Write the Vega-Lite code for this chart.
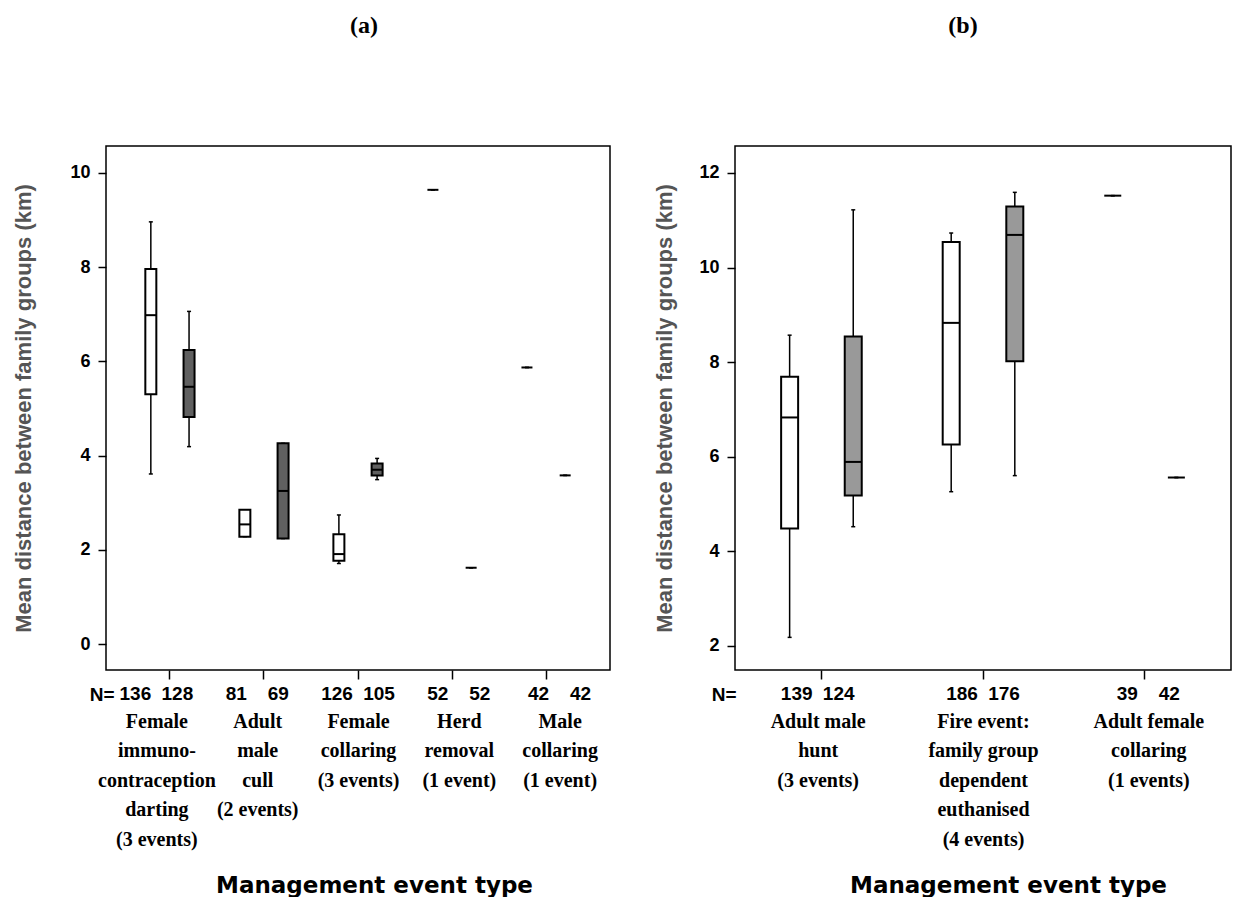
{
  "$schema": "https://vega.github.io/schema/vega-lite/v6.json",
  "background": "white",
  "padding": {"left": 12, "top": 13, "right": 5, "bottom": 0},
  "spacing": 42,
  "datasets": {
    "a": [
      {"event": "Female|immuno-|contraception|darting|(3 events)", "series": "A", "n": 136, "lower": 3.61, "q1": 5.30, "median": 6.98, "q3": 7.96, "upper": 8.96},
      {"event": "Female|immuno-|contraception|darting|(3 events)", "series": "B", "n": 128, "lower": 4.19, "q1": 4.82, "median": 5.46, "q3": 6.24, "upper": 7.06},
      {"event": "Adult|male|cull|(2 events)", "series": "A", "n": 81, "lower": 2.28, "q1": 2.28, "median": 2.54, "q3": 2.85, "upper": 2.85},
      {"event": "Adult|male|cull|(2 events)", "series": "B", "n": 69, "lower": 2.24, "q1": 2.24, "median": 3.25, "q3": 4.26, "upper": 4.26},
      {"event": "Female|collaring|(3 events)", "series": "A", "n": 126, "lower": 1.71, "q1": 1.77, "median": 1.91, "q3": 2.33, "upper": 2.74},
      {"event": "Female|collaring|(3 events)", "series": "B", "n": 105, "lower": 3.49, "q1": 3.58, "median": 3.70, "q3": 3.83, "upper": 3.94},
      {"event": "Herd|removal|(1 event)", "series": "A", "n": 52, "lower": 9.64, "q1": null, "median": 9.64, "q3": null, "upper": 9.64},
      {"event": "Herd|removal|(1 event)", "series": "B", "n": 52, "lower": 1.62, "q1": null, "median": 1.62, "q3": null, "upper": 1.62},
      {"event": "Male|collaring|(1 event)", "series": "A", "n": 42, "lower": 5.87, "q1": null, "median": 5.87, "q3": null, "upper": 5.87},
      {"event": "Male|collaring|(1 event)", "series": "B", "n": 42, "lower": 3.58, "q1": null, "median": 3.58, "q3": null, "upper": 3.58}
    ],
    "b": [
      {"event": "Adult male|hunt|(3 events)", "series": "A", "n": 139, "lower": 2.18, "q1": 4.48, "median": 6.83, "q3": 7.69, "upper": 8.57},
      {"event": "Adult male|hunt|(3 events)", "series": "B", "n": 124, "lower": 4.52, "q1": 5.18, "median": 5.89, "q3": 8.54, "upper": 11.22},
      {"event": "Fire event:|family group|dependent|euthanised|(4 events)", "series": "A", "n": 186, "lower": 5.26, "q1": 6.26, "median": 8.83, "q3": 10.54, "upper": 10.73},
      {"event": "Fire event:|family group|dependent|euthanised|(4 events)", "series": "B", "n": 176, "lower": 5.60, "q1": 8.02, "median": 10.69, "q3": 11.29, "upper": 11.59},
      {"event": "Adult female|collaring|(1 events)", "series": "A", "n": 39, "lower": 11.52, "q1": null, "median": 11.52, "q3": null, "upper": 11.52},
      {"event": "Adult female|collaring|(1 events)", "series": "B", "n": 42, "lower": 5.56, "q1": null, "median": 5.56, "q3": null, "upper": 5.56}
    ]
  },
  "hconcat": [
    {
      "name": "panelA",
      "spacing": 0,
      "resolve": {"scale": {"x": "independent", "xOffset": "independent"}},
      "vconcat": [
        {
          "name": "plotA",
          "title": {"text": "(a)", "font": "Liberation Serif", "fontSize": 24, "fontWeight": "bold", "anchor": "middle", "frame": "group", "offset": 108, "dx": 6, "color": "black"},
          "width": 504,
          "height": 524,
          "data": {"name": "a"},
          "encoding": {
            "x": {"field": "event", "type": "nominal", "sort": null, "scale": {"paddingInner": 0, "paddingOuter": 0.18}, "axis": {"labels": false, "ticks": true, "tickSize": 9, "tickWidth": 1.5, "tickColor": "black", "domain": false, "title": null}},
            "xOffset": {"field": "series", "type": "nominal", "scale": {"paddingInner": 0, "paddingOuter": 0.23}}
          },
          "layer": [
            {
              "mark": {"type": "rule", "stroke": "black", "strokeWidth": 1.5},
              "encoding": {
                "y": {"field": "lower", "type": "quantitative", "scale": {"domain": [-0.55, 10.57], "nice": false, "zero": false},
                  "axis": {"values": [0, 2, 4, 6, 8, 10], "tickSize": 8, "tickWidth": 1.5, "tickColor": "black", "domain": false, "grid": false, "labelFont": "Liberation Sans", "labelFontWeight": "bold", "labelFontSize": 18, "labelColor": "black", "labelPadding": 8, "title": "Mean distance between family groups (km)", "titleFont": "Liberation Sans", "titleFontSize": 22, "titleFontWeight": "bold", "titleColor": "#555555", "titlePadding": 34}},
                "y2": {"field": "upper"}
              }
            },
            {"mark": {"type": "tick", "size": 4, "thickness": 1.5, "color": "black", "opacity": 1}, "encoding": {"y": {"field": "lower", "type": "quantitative"}}},
            {"mark": {"type": "tick", "size": 4, "thickness": 1.5, "color": "black", "opacity": 1}, "encoding": {"y": {"field": "upper", "type": "quantitative"}}},
            {
              "mark": {"type": "bar", "width": 11, "stroke": "black", "strokeWidth": 2},
              "encoding": {
                "y": {"field": "q1", "type": "quantitative"},
                "y2": {"field": "q3"},
                "fill": {"field": "series", "type": "nominal", "scale": {"domain": ["A", "B"], "range": ["white", "#606060"]}, "legend": null}
              }
            },
            {"mark": {"type": "tick", "size": 11, "thickness": 2, "color": "black", "opacity": 1}, "encoding": {"y": {"field": "median", "type": "quantitative"}}}
          ]
        },
        {
          "name": "stripA",
          "width": 504,
          "height": 26,
          "view": {"stroke": null},
          "data": {"name": "a"},
          "encoding": {
            "x": {"field": "event", "type": "nominal", "sort": null, "scale": {"paddingInner": 0, "paddingOuter": 0.18},
              "axis": {"orient": "bottom", "ticks": false, "domain": false, "labelFont": "Liberation Serif", "labelFontWeight": "bold", "labelFontSize": 20, "labelLineHeight": 29.5, "labelPadding": 4, "labelExpr": "split(datum.label, '|')", "labelLimit": 0, "labelOverlap": false, "labelColor": "black", "labelAngle": 0, "title": "Management event type", "titleFont": "DejaVu Sans", "titleFontSize": 23, "titleFontWeight": "bold", "titleX": 268, "titleY": 178, "titleAlign": "center", "titleBaseline": "middle", "titleColor": "black"}},
            "y": {"datum": "N=", "type": "nominal", "axis": {"ticks": false, "domain": false, "labelPadding": -8, "labelFont": "Liberation Sans", "labelFontWeight": "bold", "labelFontSize": 19, "labelColor": "black", "title": null}},
            "text": {"field": "n", "type": "nominal"}
          },
          "layer": [
            {"name": "stripA_left", "transform": [{"filter": "datum.series === 'A'"}], "mark": {"type": "text", "font": "Liberation Sans", "fontWeight": "bold", "fontSize": 19, "color": "black", "dx": -21}},
            {"name": "stripA_right", "transform": [{"filter": "datum.series === 'B'"}], "mark": {"type": "text", "font": "Liberation Sans", "fontWeight": "bold", "fontSize": 19, "color": "black", "dx": 21}}
          ]
        }
      ]
    },
    {
      "name": "panelB",
      "spacing": 0,
      "resolve": {"scale": {"x": "independent", "xOffset": "independent"}},
      "vconcat": [
        {
          "name": "plotB",
          "title": {"text": "(b)", "font": "Liberation Serif", "fontSize": 24, "fontWeight": "bold", "anchor": "middle", "frame": "group", "offset": 108, "dx": -20, "color": "black"},
          "width": 496,
          "height": 524,
          "data": {"name": "b"},
          "encoding": {
            "x": {"field": "event", "type": "nominal", "sort": null, "scale": {"paddingInner": 0, "paddingOuter": 0.035}, "axis": {"labels": false, "ticks": true, "tickSize": 9, "tickWidth": 1.5, "tickColor": "black", "domain": false, "title": null}},
            "xOffset": {"field": "series", "type": "nominal", "scale": {"paddingInner": 0, "paddingOuter": 0.27}}
          },
          "layer": [
            {
              "mark": {"type": "rule", "stroke": "black", "strokeWidth": 1.5},
              "encoding": {
                "y": {"field": "lower", "type": "quantitative", "scale": {"domain": [1.49, 12.57], "nice": false, "zero": false},
                  "axis": {"values": [2, 4, 6, 8, 10, 12], "tickSize": 8, "tickWidth": 1.5, "tickColor": "black", "domain": false, "grid": false, "labelFont": "Liberation Sans", "labelFontWeight": "bold", "labelFontSize": 18, "labelColor": "black", "labelPadding": 8, "title": "Mean distance between family groups (km)", "titleFont": "Liberation Sans", "titleFontSize": 22, "titleFontWeight": "bold", "titleColor": "#555555", "titlePadding": 22}},
                "y2": {"field": "upper"}
              }
            },
            {"mark": {"type": "tick", "size": 4, "thickness": 1.5, "color": "black", "opacity": 1}, "encoding": {"y": {"field": "lower", "type": "quantitative"}}},
            {"mark": {"type": "tick", "size": 4, "thickness": 1.5, "color": "black", "opacity": 1}, "encoding": {"y": {"field": "upper", "type": "quantitative"}}},
            {
              "mark": {"type": "bar", "width": 17, "stroke": "black", "strokeWidth": 2},
              "encoding": {
                "y": {"field": "q1", "type": "quantitative"},
                "y2": {"field": "q3"},
                "fill": {"field": "series", "type": "nominal", "scale": {"domain": ["A", "B"], "range": ["white", "#999999"]}, "legend": null}
              }
            },
            {"mark": {"type": "tick", "size": 17, "thickness": 2, "color": "black", "opacity": 1}, "encoding": {"y": {"field": "median", "type": "quantitative"}}}
          ]
        },
        {
          "name": "stripB",
          "width": 496,
          "height": 26,
          "view": {"stroke": null},
          "data": {"name": "b"},
          "encoding": {
            "x": {"field": "event", "type": "nominal", "sort": null, "scale": {"paddingInner": 0, "paddingOuter": 0.035},
              "axis": {"orient": "bottom", "ticks": false, "domain": false, "labelFont": "Liberation Serif", "labelFontWeight": "bold", "labelFontSize": 20, "labelLineHeight": 29.5, "labelPadding": 4, "labelExpr": "split(datum.label, '|')", "labelLimit": 0, "labelOverlap": false, "labelColor": "black", "labelAngle": 0, "title": "Management event type", "titleFont": "DejaVu Sans", "titleFontSize": 23, "titleFontWeight": "bold", "titleX": 273, "titleY": 178, "titleAlign": "center", "titleBaseline": "middle", "titleColor": "black"}},
            "y": {"datum": "N=", "type": "nominal", "axis": {"ticks": false, "domain": false, "labelPadding": -1, "labelFont": "Liberation Sans", "labelFontWeight": "bold", "labelFontSize": 19, "labelColor": "black", "title": null}},
            "text": {"field": "n", "type": "nominal"}
          },
          "layer": [
            {"name": "stripB_left", "transform": [{"filter": "datum.series === 'A'"}], "mark": {"type": "text", "font": "Liberation Sans", "fontWeight": "bold", "fontSize": 19, "color": "black", "dx": -21}},
            {"name": "stripB_right", "transform": [{"filter": "datum.series === 'B'"}], "mark": {"type": "text", "font": "Liberation Sans", "fontWeight": "bold", "fontSize": 19, "color": "black", "dx": 21}}
          ]
        }
      ]
    }
  ],
  "resolve": {"scale": {"x": "independent", "xOffset": "independent", "fill": "independent"}},
  "config": {"view": {"stroke": "black", "strokeWidth": 1.5}, "font": "Liberation Sans"}
}
